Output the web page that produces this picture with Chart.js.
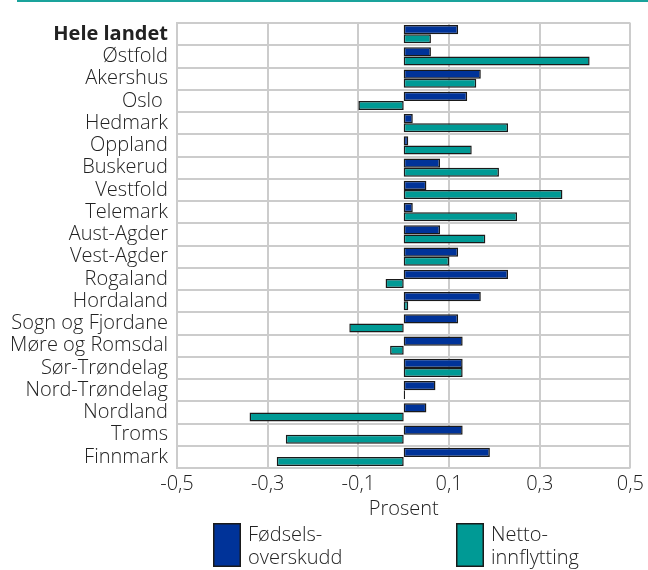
<!DOCTYPE html>
<html>
<head>
<meta charset="utf-8">
<script src="https://cdn.jsdelivr.net/npm/chart.js@4.4.0/dist/chart.umd.min.js"></script>
<style>
    html, body { margin: 0; padding: 0; background: #fff; }
    #wrap { width: 648px; height: 570px; position: relative; }
</style>
</head>
<body>
<div id="wrap"><canvas id="chart" width="648" height="570"></canvas></div>
<script>
const regions = ['Hele landet', 'Østfold', 'Akershus', 'Oslo ', 'Hedmark', 'Oppland', 'Buskerud',
    'Vestfold', 'Telemark', 'Aust-Agder', 'Vest-Agder', 'Rogaland', 'Hordaland', 'Sogn og Fjordane',
    'Møre og Romsdal', 'Sør-Trøndelag', 'Nord-Trøndelag', 'Nordland', 'Troms', 'Finnmark'];
const fodselsoverskudd = [0.12, 0.06, 0.17, 0.14, 0.02, 0.01, 0.08, 0.05, 0.02, 0.08,
    0.12, 0.23, 0.17, 0.12, 0.13, 0.13, 0.07, 0.05, 0.13, 0.19];
const nettoinnflytting = [0.06, 0.41, 0.16, -0.10, 0.23, 0.15, 0.21, 0.35, 0.25, 0.18,
    0.10, -0.04, 0.01, -0.12, -0.03, 0.13, 0.003, -0.34, -0.26, -0.28];
const xTicks = [-0.5, -0.3, -0.1, 0.1, 0.3, 0.5];
const legendLines = [['Fødsels-', 'overskudd'], ['Netto-', 'innflytting']];

const BLUE = '#003399';
const TEAL = '#009a95';
const FONT = '"Open Sans", sans-serif';
const SIZE = 20;

// top rule and the two-line legend
const extras = {
    id: 'extras',
    afterDraw(chart) {
        const ctx = chart.ctx;
        ctx.save();
        ctx.fillStyle = '#1aa39c';
        ctx.fillRect(17, 0, 631, 2);

        const boxes = [[213, BLUE], [456, TEAL]];
        ctx.font = '300 ' + SIZE + 'px ' + FONT;
        ctx.textBaseline = 'middle';
        boxes.forEach(([x, color], i) => {
            ctx.fillStyle = color;
            ctx.fillRect(x, 523, 28, 44);
            ctx.strokeStyle = '#1a1a1a';
            ctx.lineWidth = 1.5;
            ctx.strokeRect(x + 0.75, 523.75, 26.5, 42.5);
            ctx.fillStyle = '#222';
            ctx.fillText(legendLines[i][0], x + 35, 535);
            ctx.fillText(legendLines[i][1], x + 35, 558);
        });
        ctx.restore();
    }
};

new Chart(document.getElementById('chart').getContext('2d'), {
    type: 'bar',
    data: {
        labels: regions,
        datasets: [
            {
                label: 'Fødselsoverskudd',
                data: fodselsoverskudd,
                backgroundColor: BLUE,
                borderColor: '#1a1a1a',
                borderWidth: 1.5,
                borderSkipped: false
            },
            {
                label: 'Nettoinnflytting',
                data: nettoinnflytting,
                backgroundColor: TEAL,
                borderColor: '#1a1a1a',
                borderWidth: 1.5,
                borderSkipped: false
            }
        ]
    },
    options: {
        indexAxis: 'y',
        responsive: false,
        animation: false,
        layout: { padding: { top: 23, right: 16, bottom: 46, left: 0 } },
        datasets: { bar: { categoryPercentage: 0.82, barPercentage: 1 } },
        plugins: {
            legend: { display: false },
            tooltip: { enabled: false }
        },
        scales: {
            x: {
                min: -0.5,
                max: 0.5,
                afterBuildTicks: axis => { axis.ticks = xTicks.map(v => ({ value: v })); },
                afterFit: axis => { axis.height = 56; },
                grid: { color: '#cccccc', lineWidth: 2, drawTicks: false },
                border: { display: false },
                ticks: {
                    padding: 4,
                    color: '#222',
                    font: { family: FONT, size: SIZE, weight: 300 },
                    callback: v => v.toFixed(1).replace('.', ',')
                },
                title: {
                    display: true,
                    text: 'Prosent',
                    color: '#222',
                    font: { family: FONT, size: SIZE, weight: 300 },
                    padding: { top: 0, bottom: 3 }
                }
            },
            y: {
                afterFit: axis => { axis.width = 177; },
                grid: { color: '#cccccc', lineWidth: 2, drawTicks: false, offset: true },
                border: { color: '#cccccc', width: 2 },
                ticks: {
                    padding: 9,
                    color: '#222',
                    autoSkip: false,
                    font: c => ({ family: FONT, size: SIZE, weight: c.index === 0 ? 'bold' : 300 })
                }
            }
        }
    },
    plugins: [extras]
});
</script>
</body>
</html>
